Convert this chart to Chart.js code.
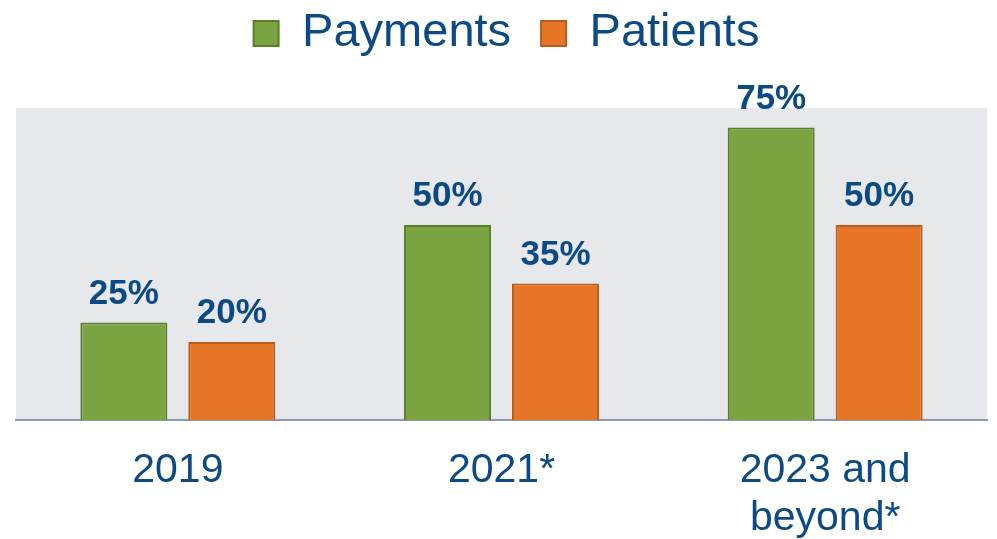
<!DOCTYPE html>
<html>
<head>
<meta charset="utf-8">
<script src="https://cdn.jsdelivr.net/npm/chart.js@4.4.0/dist/chart.umd.min.js"></script>
<style>
  html, body { margin: 0; padding: 0; background: #fff; }
  #wrap { width: 997px; height: 539px; }
</style>
</head>
<body>
<div id="wrap"><canvas id="chart" width="997" height="539"></canvas></div>
<script>
const categories = [['2019'], ['2021*'], ['2023 and', 'beyond*']];
const payments   = [25, 50, 75];
const patients   = [20, 35, 50];

const textBlue = '#0B4A84';

// grey plot background
const plotBg = {
    id: 'plotBg',
    beforeDraw(chart) {
        const a = chart.chartArea;
        const ctx = chart.ctx;
        ctx.save();
        ctx.fillStyle = '#E7E8EC';
        ctx.fillRect(a.left, a.top, a.right - a.left, a.bottom - a.top);
        ctx.restore();
    }
};

// value labels above bars
const valueLabels = {
    id: 'valueLabels',
    afterDatasetsDraw(chart) {
        const ctx = chart.ctx;
        ctx.save();
        ctx.font = 'bold 35px Arial, "Liberation Sans", sans-serif';
        ctx.fillStyle = textBlue;
        ctx.textAlign = 'center';
        ctx.textBaseline = 'alphabetic';
        chart.data.datasets.forEach((ds, i) => {
            chart.getDatasetMeta(i).data.forEach((bar, j) => {
                ctx.fillText(ds.data[j] + '%', bar.x, bar.y - 19);
            });
        });
        ctx.restore();
    }
};

// fixed legend height so the plot starts where it should, legend nudged up
const legendTweak = {
    id: 'legendTweak',
    beforeInit(chart) {
        const lg = chart.legend;
        const fit = lg.fit;
        lg.fit = function() {
            fit.bind(lg)();
            this.height = 108;
        };
        const draw = lg.draw;
        lg.draw = function() {
            const ctx = chart.ctx;
            ctx.save();
            ctx.translate(5, -20);
            draw.bind(lg)();
            ctx.restore();
        };
    }
};

new Chart(document.getElementById('chart'), {
    type: 'bar',
    data: {
        labels: categories,
        datasets: [{
            label: 'Payments',
            data: payments,
            backgroundColor: '#7BA443',
            borderColor: '#5B7E2E',
            borderWidth: 2,
            borderSkipped: 'bottom'
        }, {
            label: 'Patients',
            data: patients,
            backgroundColor: '#E77528',
            borderColor: '#BA5A1C',
            borderWidth: 2,
            borderSkipped: 'bottom'
        }]
    },
    options: {
        responsive: false,
        animation: false,
        categoryPercentage: 0.667,
        barPercentage: 0.806,
        layout: { padding: { left: 16, right: 10, top: 0, bottom: 0 } },
        plugins: {
            legend: {
                position: 'top',
                labels: {
                    color: textBlue,
                    font: { family: 'Arial, "Liberation Sans", sans-serif', size: 47 },
                    boxWidth: 25,
                    boxHeight: 25,
                    padding: 30
                }
            },
            tooltip: { enabled: false }
        },
        scales: {
            x: {
                grid: { display: false, drawTicks: false },
                border: { display: true, color: '#8E99B1', width: 2 },
                ticks: {
                    color: textBlue,
                    font: { family: 'Arial, "Liberation Sans", sans-serif', size: 41, lineHeight: 1.17 },
                    padding: 27,
                    maxRotation: 0
                },
                afterFit(scale) {
                    scale.height = 119;
                }
            },
            y: {
                display: false,
                min: 0,
                max: 80
            }
        }
    },
    plugins: [plotBg, valueLabels, legendTweak]
});
</script>
</body>
</html>
